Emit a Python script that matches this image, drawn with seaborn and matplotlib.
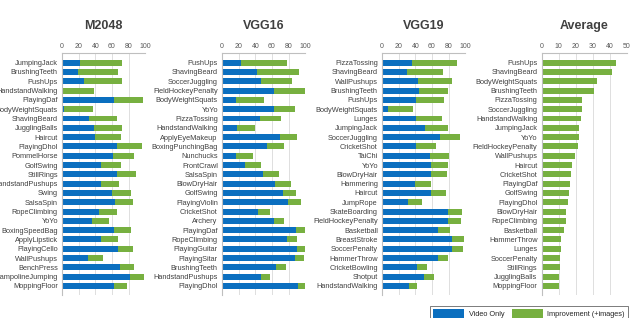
import matplotlib
matplotlib.use("Agg")
import matplotlib.pyplot as plt
import seaborn as sns
import pandas as pd
from matplotlib.patches import Patch

# ---------------- data ----------------
m2048_cats = ["JumpingJack", "BrushingTeeth", "PushUps", "HandstandWalking", "PlayingDaf",
              "BodyWeightSquats", "ShavingBeard", "JugglingBalls", "Haircut", "PlayingDhol",
              "PommelHorse", "GolfSwing", "StillRings", "HandstandPushups", "Swing", "SalsaSpin",
              "RopeClimbing", "YoYo", "BoxingSpeedBag", "ApplyLipstick", "PlayingCello",
              "WallPushups", "BenchPress", "TrampolineJumping", "MoppingFloor"]
m2048_video = [21.6, 19, 26.4, 0, 62, 3, 33, 38, 40, 66, 61, 46.4, 66.4, 46.8, 60.4, 63.6,
               44.4, 36, 62.8, 47.2, 66.8, 31.2, 69.6, 82, 62.4]
m2048_total = [71.6, 67.6, 71.6, 39, 97, 37.6, 66, 71.6, 71, 96, 87, 70.4, 88.8, 68.8, 82.4,
               84.8, 65.6, 56.4, 82.4, 66.8, 85.6, 49.2, 86.8, 98.4, 78]

vgg16_cats = ["PushUps", "ShavingBeard", "SoccerJuggling", "FieldHockeyPenalty",
              "BodyWeightSquats", "YoYo", "PizzaTossing", "HandstandWalking", "ApplyEyeMakeup",
              "BoxingPunchingBag", "Nunchucks", "FrontCrawl", "SalsaSpin", "BlowDryHair",
              "GolfSwing", "PlayingViolin", "CricketShot", "Archery", "PlayingDaf",
              "RopeClimbing", "PlayingGuitar", "PlayingSitar", "BrushingTeeth",
              "HandstandPushups", "PlayingDhol"]
vgg16_video = [23.2, 42, 46.4, 62.8, 16.8, 62, 45.6, 17.6, 69.2, 53.6, 17.2, 27.2, 48.8, 63.6,
               72.8, 79.6, 43.2, 62, 88.8, 77.6, 89.6, 87.6, 64.8, 46.8, 91.2]
vgg16_total = [77.6, 92, 84, 99.2, 50.8, 88, 71.2, 39.2, 90, 74.8, 37.6, 46.4, 68.4, 83.2,
               88.4, 94.4, 58, 74, 100, 89.6, 100, 99, 76.4, 58, 100]

vgg19_cats = ["PizzaTossing", "ShavingBeard", "WallPushups", "BrushingTeeth", "PushUps",
              "BodyWeightSquats", "Lunges", "JumpingJack", "SoccerJuggling", "CricketShot",
              "TaiChi", "YoYo", "BlowDryHair", "Hammering", "Haircut", "JumpRope",
              "SkateBoarding", "FieldHockeyPenalty", "Basketball", "BreastStroke",
              "SoccerPenalty", "HammerThrow", "CricketBowling", "Shotput", "HandstandWalking"]
vgg19_video = [36.4, 30.4, 43.6, 44.8, 40.8, 6.8, 40.8, 52, 70, 40.8, 57.6, 59.2, 58.4, 40,
               58.4, 31.2, 79.6, 78.8, 67.2, 84, 84, 67.6, 41.6, 50.4, 32.4]
vgg19_total = [89.6, 73.6, 84.4, 79.2, 74.8, 37.6, 71.6, 79.6, 94, 64.8, 80.4, 79.2, 78, 58.8,
               77.2, 48.4, 95.6, 94.4, 81.6, 98.4, 97.2, 79.2, 54, 62, 42]

avg_cats = ["PushUps", "ShavingBeard", "BodyWeightSquats", "BrushingTeeth", "PizzaTossing",
            "SoccerJuggling", "HandstandWalking", "JumpingJack", "YoYo", "FieldHockeyPenalty",
            "WallPushups", "Haircut", "CricketShot", "PlayingDaf", "GolfSwing", "PlayingDhol",
            "BlowDryHair", "RopeClimbing", "Basketball", "HammerThrow", "Lunges",
            "SoccerPenalty", "StillRings", "JugglingBalls", "MoppingFloor"]
avg_improvement = [43.7, 41.4, 32.5, 30.8, 23.5, 23.5, 22.9, 22, 21.8, 21.2, 19.4, 17.6, 17.5,
                   16.7, 15.9, 15.5, 14.5, 14.1, 12.9, 11.4, 11.2, 11, 10.8, 10.4, 10.2]

titles = ["M2048", "VGG16", "VGG19", "Average"]
legend_labels = ["Video Only", "Improvement (+images)"]

# ---------------- style ----------------
sns.set_theme(style="white")
plt.rcParams["font.family"] = ["Liberation Sans", "DejaVu Sans"]

BLUE = "#0b6fbf"
GREEN = "#77b040"
GRID = "#d9d9d9"
SPINE = "#bfbfbf"
TXT = "#404040"

W, H = 633, 318
fig = plt.figure(figsize=(W / 100, H / 100), dpi=100)

top_px, bot_px = 52.7, 295.0
panels = [
    (62.0, 145.3, 100, [0, 20, 40, 60, 80, 100], m2048_cats, m2048_video, m2048_total),
    (222.0, 305.3, 100, [0, 20, 40, 60, 80, 100], vgg16_cats, vgg16_video, vgg16_total),
    (382.0, 465.3, 100, [0, 20, 40, 60, 80, 100], vgg19_cats, vgg19_video, vgg19_total),
    (541.7, 626.7, 50, [0, 10, 20, 30, 40, 50], avg_cats, None, avg_improvement),
]

for i, (x0, x1, xmax, ticks, cats, video, total) in enumerate(panels):
    ax = fig.add_axes([x0 / W, 1 - bot_px / H, (x1 - x0) / W, (bot_px - top_px) / H])
    df = pd.DataFrame({"cat": cats, "total": total})
    sns.barplot(data=df, x="total", y="cat", color=GREEN, orient="h", width=0.64,
                saturation=1, linewidth=0, ax=ax)
    if video is not None:
        dv = pd.DataFrame({"cat": cats, "video": video})
        sns.barplot(data=dv, x="video", y="cat", color=BLUE, orient="h", width=0.64,
                    saturation=1, linewidth=0, ax=ax)
    ax.set_xlim(0, xmax)
    ax.set_ylim(len(cats) - 1 + 0.97, -1.07)
    ax.set_xticks(ticks)
    ax.xaxis.tick_top()
    ax.tick_params(axis="x", top=True, bottom=False, labeltop=True, labelbottom=False,
                   length=0, pad=2, labelsize=5, labelcolor="#595959")
    ax.tick_params(axis="y", length=0, pad=3, labelsize=5.3, labelcolor=TXT)
    ax.set_xlabel("")
    ax.set_ylabel("")
    ax.grid(axis="x", color=GRID, linewidth=0.6)
    ax.set_axisbelow(True)
    for s in ["right", "bottom"]:
        ax.spines[s].set_visible(False)
    for s in ["top", "left"]:
        ax.spines[s].set_color(SPINE)
        ax.spines[s].set_linewidth(0.8)
    fig.text((x0 + x1) / 2 / W, 1 - 26 / H, titles[i], ha="center", va="center",
             fontsize=9, fontweight="bold", color=TXT)

handles = [Patch(facecolor=BLUE, edgecolor="none"), Patch(facecolor=GREEN, edgecolor="none")]
leg = fig.legend(handles, legend_labels, loc="upper left",
                 bbox_to_anchor=(430 / W, 1 - 306 / H), ncol=2, fontsize=5.3,
                 frameon=True, fancybox=False, handlelength=4.2, handleheight=1.6,
                 columnspacing=1.0, borderpad=0.45, borderaxespad=0, handletextpad=0.6)
leg.get_frame().set_edgecolor("#404040")
leg.get_frame().set_linewidth(0.6)

fig.savefig("out.png", dpi=100)
